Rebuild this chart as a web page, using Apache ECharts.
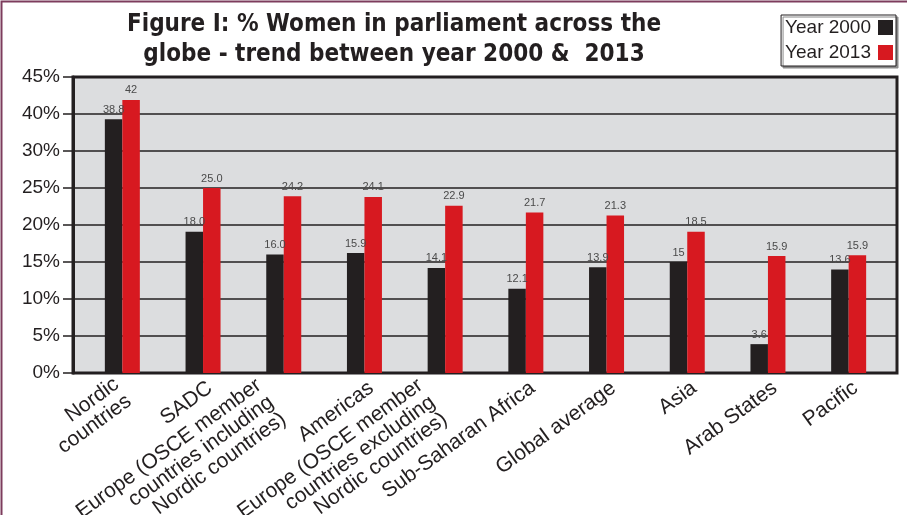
<!DOCTYPE html>
<html>
<head>
<meta charset="utf-8">
<script src="https://cdn.jsdelivr.net/npm/echarts@6/dist/echarts.min.js"></script>
<style>
  html, body { margin: 0; padding: 0; background: #fff; }
  #chart { width: 907px; height: 515px; }
</style>
</head>
<body>
<div id="chart"></div>
<script>
// regions on the x axis
const regions = [
  "Nordic\ncountries",
  "SADC",
  "Europe (OSCE member\ncountries including\nNordic countries)",
  "Americas",
  "Europe (OSCE member\ncountries excluding\nNordic countries)",
  "Sub-Saharan Africa",
  "Global average",
  "Asia",
  "Arab States",
  "Pacific",
];
// bar heights as drawn (in % of the printed scale)
const year2000 = [38.6, 19.1, 16.0, 16.2, 14.2, 11.4, 14.3, 15.0, 3.9, 14.0];
const year2013 = [41.9, 25.0, 23.9, 23.8, 22.6, 21.7, 21.3, 19.1, 15.8, 15.9];
// printed value labels
const labels2000 = ["38.8", "18.0", "16.0", "15.9", "14.1", "12.1", "13.9", "15", "3.6", "13.6"];
const labels2013 = ["42", "25.0", "24.2", "24.1", "22.9", "21.7", "21.3", "18.5", "15.9", "15.9"];
// tick labels of the printed axis (note: 35% is missing in the original)
const yTicks = ["0%", "5%", "10%", "15%", "20%", "25%", "30%", "40%", "45%"];
const tickValues = [0, 5, 10, 15, 20, 25, 30, 40, 45];

// the printed axis is evenly spaced per tick, so map values onto tick slots
const toSlot = (v) => {
  for (let i = 1; i < tickValues.length; i++) {
    if (v <= tickValues[i]) {
      const a = tickValues[i - 1], b = tickValues[i];
      return (i - 1) * 5 + ((v - a) / (b - a)) * 5;
    }
  }
  return (tickValues.length - 1) * 5;
};

const dark = "#231f20";
const red = "#d71920";
const plotTop = 77, plotBottom = 142;

// multi-line labels sit further left in the original, nudge them by line count
const labelPad = { 1: [0, 0, 0, 0], 2: [0, 8, 0, 0], 3: [0, 24, 0, 0] };
const categoryItems = regions.map((r) => ({
  value: r,
  textStyle: { padding: labelPad[r.split("\n").length] },
}));

const chart = echarts.init(document.getElementById("chart"));

const valueLabel = (arr) => ({
  show: true,
  position: "top",
  distance: 4,
  fontSize: 11,
  color: "#4a4a4a",
  fontFamily: "Arial, 'Liberation Sans', sans-serif",
  formatter: (p) => arr[p.dataIndex],
});

chart.setOption({
  animation: false,
  textStyle: { fontFamily: "Arial, 'Liberation Sans', sans-serif" },
  title: {
    text: "Figure I: % Women in parliament across the\nglobe - trend between year 2000 &  2013",
    left: 389,
    top: 5,
    textAlign: "center",
    textStyle: {
      fontFamily: "'DejaVu Sans Condensed', 'Liberation Sans Narrow', Arial, sans-serif",
      fontWeight: "bold",
      fontSize: 24,
      lineHeight: 30,
      color: dark,
    },
  },
  legend: {
    data: ["Year 2000", "Year 2013"],
    orient: "vertical",
    right: 11,
    top: 15,
    align: "right",
    icon: "rect",
    itemWidth: 15,
    itemHeight: 15,
    itemGap: 6,
    padding: [3, 3, 4, 4],
    backgroundColor: "#fff",
    borderColor: dark,
    borderWidth: 1,
    shadowColor: "#8a8a8a",
    shadowOffsetX: 2,
    shadowOffsetY: 2,
    shadowBlur: 0,
    textStyle: { fontSize: 19, color: dark, padding: [0, 2, 0, 0] },
  },
  graphic: [
    {
      type: "rect",
      shape: { x: 1.5, y: 1.5, width: 1200, height: 1200 },
      style: { fill: "none", stroke: "#7d3c5d", lineWidth: 2 },
      silent: true,
    },
  ],
  grid: [
    {
      left: 73, right: 10, top: plotTop, bottom: plotBottom,
      outerBoundsMode: "none",
      containLabel: false,
      show: true,
      backgroundColor: "#dcdddf",
      borderColor: dark,
      borderWidth: 3,
    },
    {
      left: 82, right: 18, top: plotTop, bottom: plotBottom,
      outerBoundsMode: "none",
      containLabel: false,
    },
    {
      // label-only grid, slightly shifted so the rotated names land as in the original
      left: 89, right: 11, top: plotTop, bottom: plotBottom,
      outerBoundsMode: "none",
      containLabel: false,
    },
  ],
  xAxis: [
    { gridIndex: 0, type: "value", show: false },
    {
      gridIndex: 1,
      type: "category",
      data: regions,
      axisLine: { show: false },
      axisTick: { show: false },
      axisLabel: { show: false },
    },
    {
      gridIndex: 2,
      type: "category",
      data: categoryItems,
      axisLine: { show: false },
      axisTick: { show: false },
      axisLabel: {
        rotate: 36,
        margin: 13,
        fontSize: 21,
        lineHeight: 21,
        color: dark,
        interval: 0,
        align: "right",
        verticalAlign: "middle",
        hideOverlap: false,
      },
    },
  ],
  yAxis: [
    {
      gridIndex: 0,
      type: "value",
      min: 0,
      max: 40,
      interval: 5,
      axisLine: { show: true, lineStyle: { color: dark, width: 3 } },
      axisTick: { show: true, length: 10, lineStyle: { color: dark, width: 1.5 } },
      axisLabel: {
        fontSize: 19,
        color: dark,
        margin: 13,
        padding: [7, 0, 0, 0],
        formatter: (v) => yTicks[Math.round(v / 5)],
      },
      splitLine: { show: true, lineStyle: { color: dark, width: 1.5 } },
    },
    { gridIndex: 1, type: "value", min: 0, max: 40, show: false, splitLine: { show: false } },
    { gridIndex: 2, type: "value", min: 0, max: 40, show: false, splitLine: { show: false } },
  ],
  series: [
    {
      name: "Year 2000",
      type: "bar",
      xAxisIndex: 1,
      yAxisIndex: 1,
      data: year2000.map(toSlot),
      barWidth: 17.5,
      barGap: "0%",
      itemStyle: { color: dark },
      label: valueLabel(labels2000),
    },
    {
      name: "Year 2013",
      type: "bar",
      xAxisIndex: 1,
      yAxisIndex: 1,
      data: year2013.map(toSlot),
      barWidth: 17.5,
      barGap: "0%",
      itemStyle: { color: red },
      label: valueLabel(labels2013),
    },
  ],
});
</script>
</body>
</html>
